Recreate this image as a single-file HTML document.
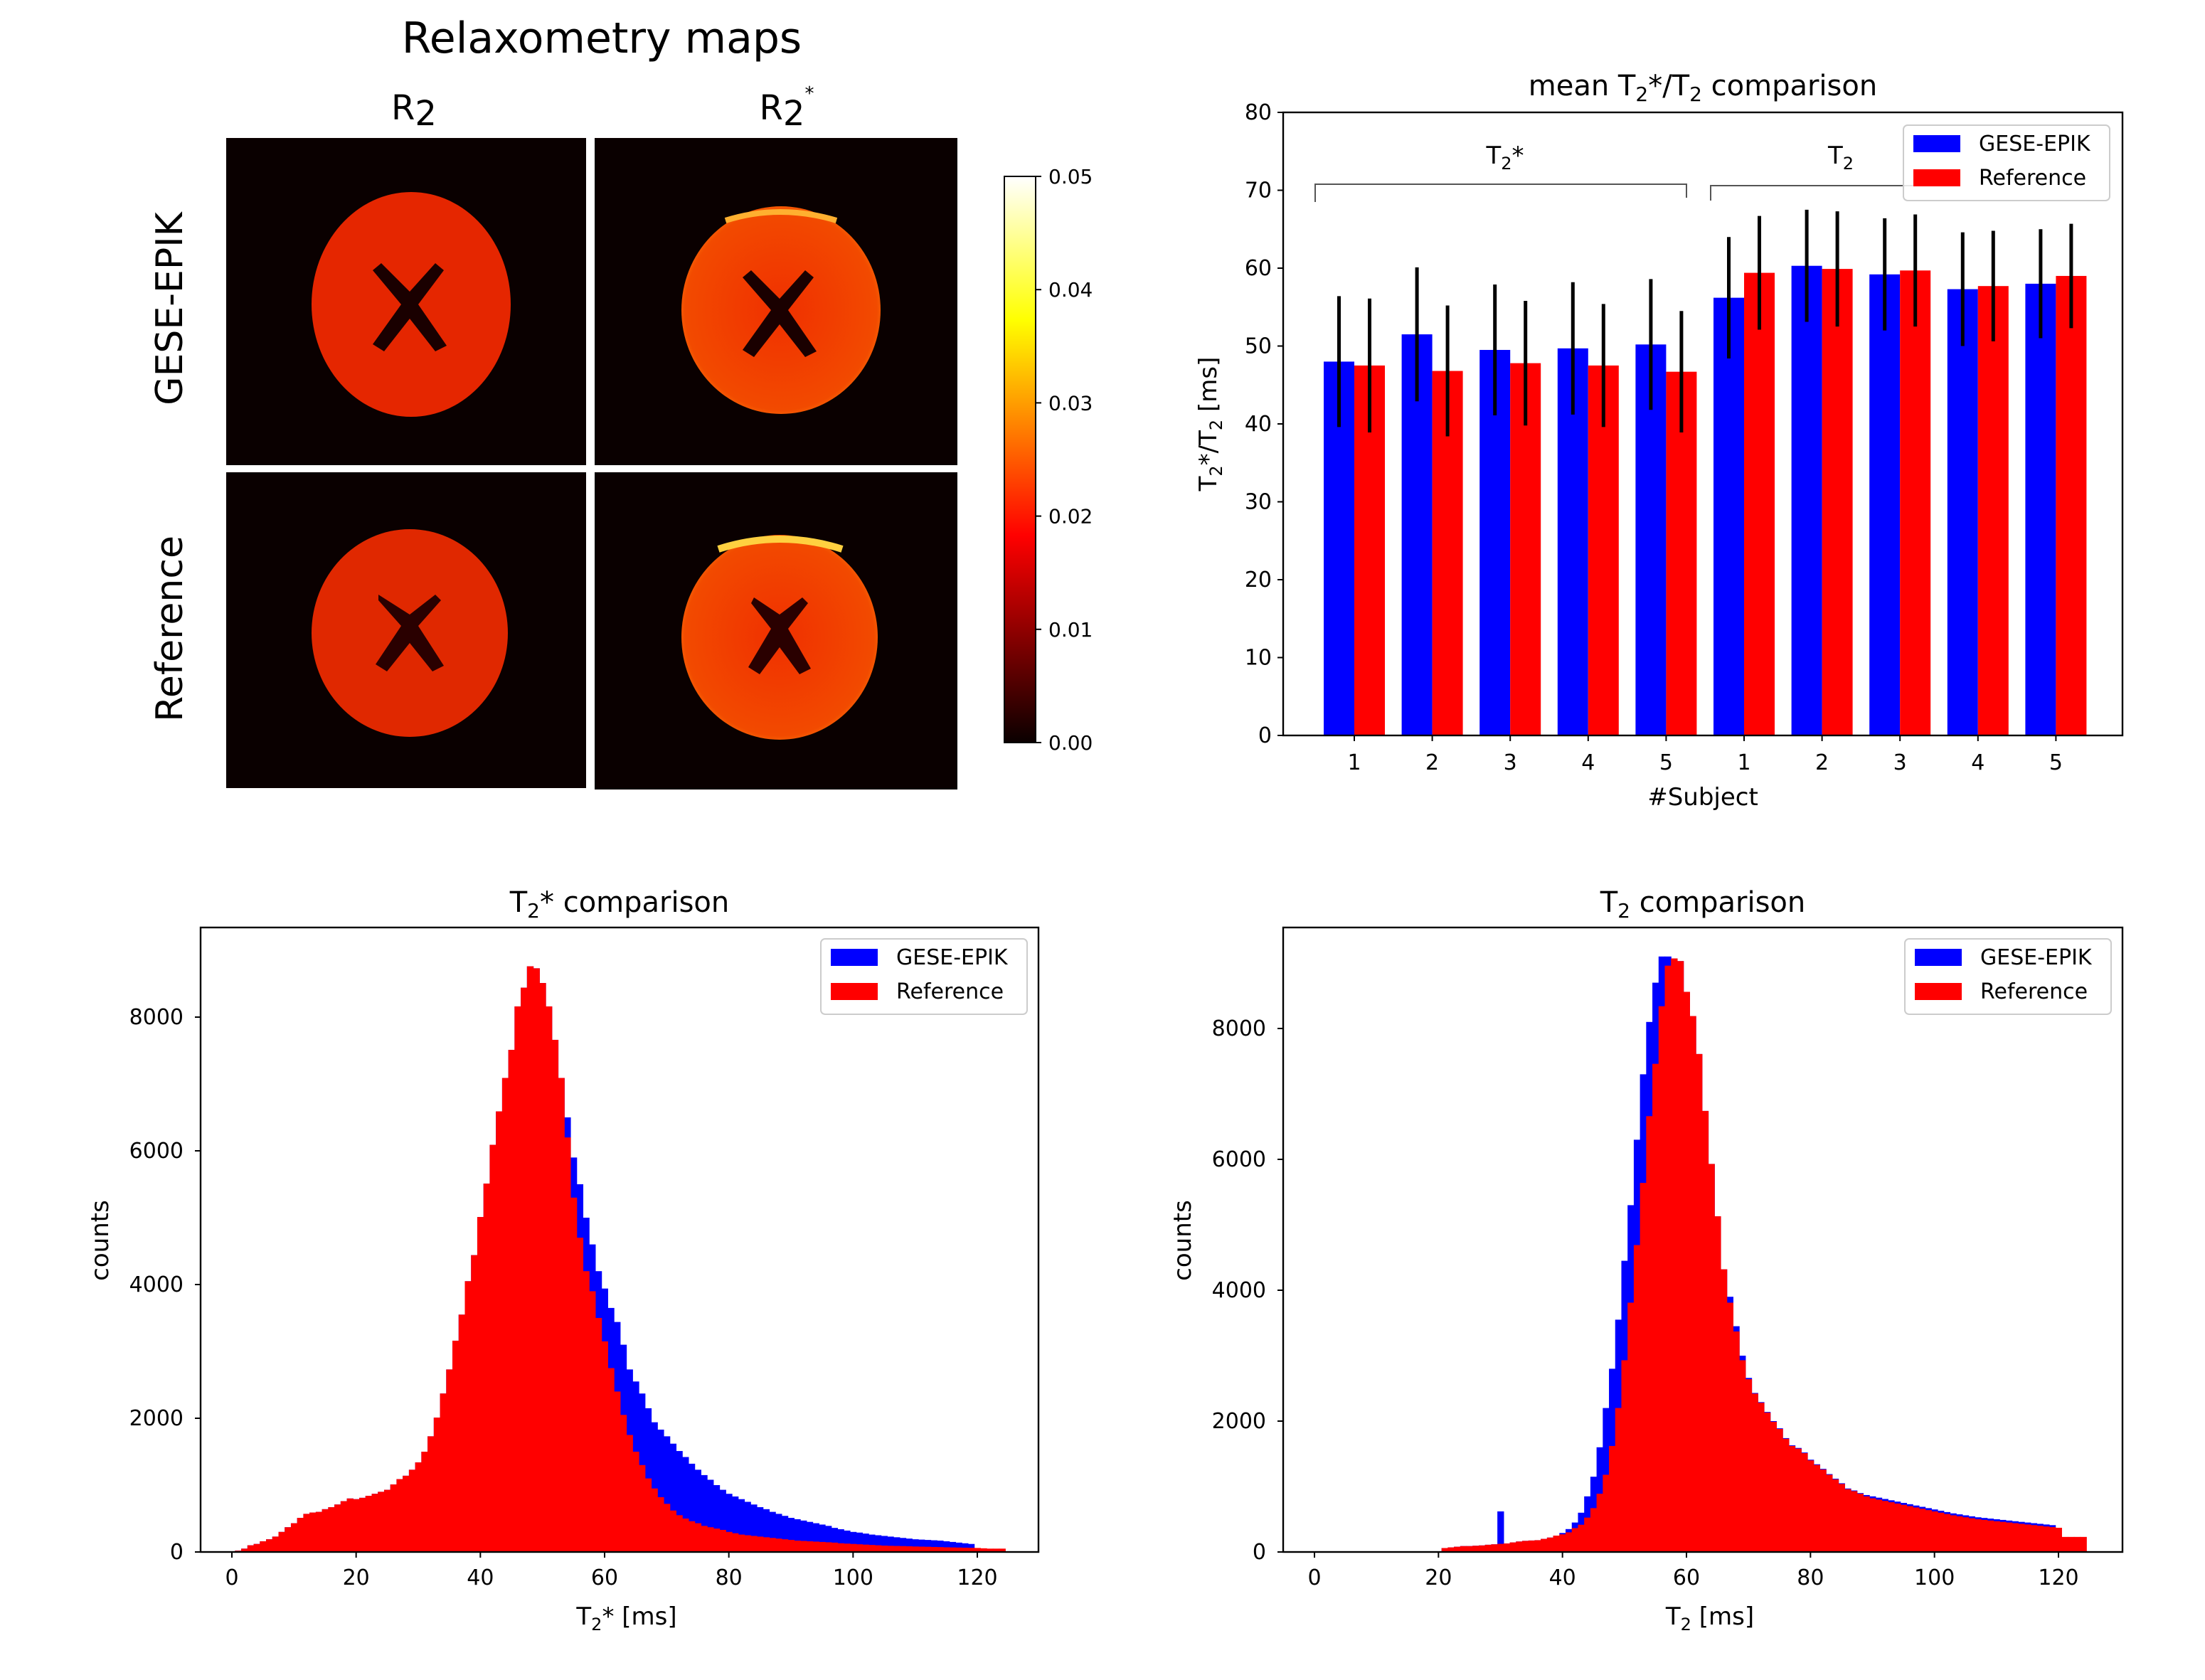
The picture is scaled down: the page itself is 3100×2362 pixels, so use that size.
<!DOCTYPE html>
<html><head><meta charset="utf-8"><style>
html,body{margin:0;padding:0;background:#fff;}
svg{display:block;font-family:"DejaVu Sans","Liberation Sans",sans-serif;}
</style></head><body>
<svg id="fig" width="3100" height="2362" viewBox="0 0 1550 1181" xmlns="http://www.w3.org/2000/svg">
<defs>
<linearGradient id="hot" x1="0" y1="1" x2="0" y2="0">
<stop offset="0" stop-color="#0a0000"/><stop offset="0.365" stop-color="#ff0000"/><stop offset="0.746" stop-color="#ffff00"/><stop offset="1" stop-color="#ffffff"/>
</linearGradient>
<radialGradient id="r2s" cx="0.5" cy="0.5" r="0.6"><stop offset="0" stop-color="#f03000"/><stop offset="0.8" stop-color="#f24a00"/><stop offset="1" stop-color="#ff9a10"/></radialGradient>
</defs>
<g>
<text x="423" y="37" font-size="30" text-anchor="middle">Relaxometry maps</text>
<text x="291" y="84" font-size="24" text-anchor="middle">R<tspan dy="4">2</tspan></text>
<text x="553" y="84" font-size="24" text-anchor="middle">R<tspan dy="4">2</tspan><tspan dy="-18" font-size="13">*</tspan></text>
<text transform="translate(128,217) rotate(-90)" font-size="26" text-anchor="middle">GESE-EPIK</text>
<text transform="translate(128,442) rotate(-90)" font-size="26" text-anchor="middle">Reference</text>
<rect x="159" y="97" width="253" height="230" fill="#0a0000"/>
<rect x="418" y="97" width="255" height="230" fill="#0a0000"/>
<rect x="159" y="332" width="253" height="222" fill="#0a0000"/>
<rect x="418" y="332" width="255" height="223" fill="#0a0000"/>
<g><ellipse cx="289" cy="214" rx="70" ry="79" fill="#e52600"/><path d="M268,185 L288,205 L306,185 L312,190 L294,214 L314,243 L306,247 L288,224 L270,247 L262,242 L282,214 L262,190Z" fill="#1a0000"/></g>
<g><ellipse cx="549" cy="218" rx="70" ry="73" fill="url(#r2s)"/><path d="M510,155 Q548,143 588,155" stroke="#ffb030" stroke-width="4" fill="none"/><path d="M528,190 L548,210 L566,190 L572,195 L554,218 L574,247 L566,251 L548,228 L530,251 L522,246 L542,218 L522,195Z" fill="#1a0000"/></g>
<g><ellipse cx="288" cy="445" rx="69" ry="73" fill="#e02800"/><path d="M266,418 L288,432 L306,418 L310,422 L294,440 L312,468 L304,472 L288,452 L272,472 L264,467 L282,440 L266,422Z" fill="#2a0000"/></g>
<g><ellipse cx="548" cy="448" rx="69" ry="72" fill="url(#r2s)"/><path d="M530,420 L548,432 L564,420 L568,424 L554,442 L570,470 L562,474 L548,455 L534,474 L526,469 L542,442 L528,424Z" fill="#2a0000"/><path d="M505,386 Q548,372 592,386" stroke="#ffd040" stroke-width="5" fill="none"/></g>
<rect x="706" y="124" width="22" height="398" fill="url(#hot)" stroke="#000" stroke-width="1"/>
<g id="cbticks" font-size="14"></g>
</g>
<g id="bar"></g>
<g id="h1"></g>
<g id="h2"></g>
</svg>
<script>
// ---- colorbar data ----
const cbTicks = [0.00, 0.01, 0.02, 0.03, 0.04, 0.05];
// ---- bar chart data ----
const subjects = ["1","2","3","4","5","1","2","3","4","5"];
const geseMean = [48, 51.5, 49.5, 49.7, 50.2, 56.2, 60.3, 59.2, 57.3, 58];
const refMean  = [47.5, 46.8, 47.8, 47.5, 46.7, 59.4, 59.9, 59.7, 57.7, 59];
const geseErr  = [8.4, 8.6, 8.4, 8.5, 8.4, 7.8, 7.2, 7.2, 7.3, 7.0];
const refErr   = [8.6, 8.4, 8.0, 7.9, 7.8, 7.3, 7.4, 7.2, 7.1, 6.7];
const barTicks = [0,10,20,30,40,50,60,70,80];
// ---- histogram data (1 ms bins centred on 0..124) ----
const t2sRef = [0,20,50,100,120,160,190,230,300,370,430,510,570,590,600,640,670,710,760,800,790,810,840,870,900,930,1010,1090,1140,1230,1340,1500,1730,2010,2370,2730,3160,3550,4050,4440,5010,5510,6090,6590,7090,7510,8160,8440,8760,8730,8510,8160,7660,7090,6200,5300,4700,4200,3900,3500,3150,2750,2400,2050,1750,1500,1300,1100,950,820,720,620,550,500,460,430,390,370,350,330,300,280,260,250,240,230,220,210,200,190,180,170,165,160,155,150,145,140,130,125,120,115,110,105,100,95,92,90,88,85,82,80,78,75,73,70,68,66,64,62,60,55,50,50,50];
const t2sGese = [0,20,50,100,120,160,190,230,300,370,430,510,570,590,600,640,670,710,760,800,790,810,840,870,900,930,1010,1090,1140,1230,1340,1500,1730,2010,2370,2730,3160,3550,4050,4440,5010,5510,6090,6590,7090,7510,8160,8440,8760,8730,8510,8160,7660,7090,6500,5900,5500,5000,4600,4200,3940,3650,3440,3100,2730,2550,2370,2150,1940,1830,1730,1620,1510,1420,1320,1230,1150,1080,1000,930,870,830,790,750,710,670,640,600,570,540,510,490,470,450,430,410,390,360,340,320,300,290,275,260,250,240,230,220,210,200,190,185,180,175,170,160,150,140,130,120,0,0,0,0,0];
const t2Ref = [0,0,0,0,0,0,0,0,0,0,0,0,0,0,0,0,0,0,0,0,0,60,70,80,90,90,95,100,110,117,124,130,146,160,170,175,180,200,220,250,270,300,365,416,525,670,890,1180,1620,2200,2930,3810,4690,5640,6660,7460,8340,8960,9070,9030,8560,8190,7610,6740,5930,5130,4320,3810,3370,2930,2640,2420,2280,2130,1990,1880,1730,1620,1580,1510,1400,1330,1260,1180,1110,1040,960,930,890,850,820,800,780,760,740,720,700,680,660,640,620,600,580,560,545,530,515,500,490,480,470,460,450,440,430,420,410,400,390,380,370,230,230,230,230];
const t2Gese = [0,0,0,0,0,0,0,0,0,0,0,0,0,0,0,0,0,0,0,0,0,60,70,80,90,90,95,100,110,117,620,130,146,160,170,175,180,200,220,250,290,350,450,600,850,1150,1600,2200,2800,3550,4450,5300,6300,7300,8100,8700,9100,9100,9070,9030,8560,8190,7610,6740,5930,5130,4320,3900,3450,3000,2660,2430,2290,2140,2000,1890,1740,1630,1590,1520,1410,1340,1270,1190,1120,1050,970,940,900,870,850,830,810,790,770,750,730,710,690,670,650,630,610,590,575,560,545,530,520,510,500,490,480,470,460,450,440,430,420,410,0,0,0,0,0];
const histTicksX = [0,20,40,60,80,100,120];
const histTicksY = [0,2000,4000,6000,8000];

const NS = "http://www.w3.org/2000/svg";
function mk(parent, tag, attrs, text){
  const e = document.createElementNS(NS, tag);
  for (const k in attrs) e.setAttribute(k, attrs[k]);
  if (text !== undefined) e.textContent = text;
  parent.appendChild(e);
  return e;
}

const cbg = document.getElementById('cbticks');
const cbY = v => 522 - (v/0.05)*398;
cbTicks.forEach(v => {
  const t = mk(cbg, 'line', {x1:728, x2:732, y1:cbY(v), y2:cbY(v), stroke:'#000'});
  
  
  const l = mk(cbg, 'text', {x:737, y:cbY(v)+5}, v.toFixed(2));
  
  
});

(function(){
  const g = document.getElementById('bar');
  const L=902, R=1492, T=79, B=517;
  const y = v => B - v/80*(B-T);
  const x = i => 952 + i*54.8;
  const bw = 21.5;
  const title = mk(g,'text',{x:1197,y:67,'font-size':20,'text-anchor':'middle'});
  title.innerHTML = 'mean T<tspan dy="4" font-size="14">2</tspan><tspan dy="-4">*/T</tspan><tspan dy="4" font-size="14">2</tspan><tspan dy="-4"> comparison</tspan>';
  
  
  subjects.forEach((s,i)=>{
    const b1 = mk(g,'rect',{x:x(i)-bw,y:y(geseMean[i]),width:bw,height:B-y(geseMean[i]),fill:'#0000ff'});
    
    
    const b2 = mk(g,'rect',{x:x(i),y:y(refMean[i]),width:bw,height:B-y(refMean[i]),fill:'#ff0000'});
    
    
  });
  subjects.forEach((s,i)=>{
    const e1 = mk(g,'line',{x1:x(i)-bw/2,x2:x(i)-bw/2,y1:y(geseMean[i]-geseErr[i]),y2:y(geseMean[i]+geseErr[i]),stroke:'#000','stroke-width':2.5});
    
    
    const e2 = mk(g,'line',{x1:x(i)+bw/2,x2:x(i)+bw/2,y1:y(refMean[i]-refErr[i]),y2:y(refMean[i]+refErr[i]),stroke:'#000','stroke-width':2.5});
    
    
    mk(g,'line',{x1:x(i),x2:x(i),y1:B,y2:B+4,stroke:'#000'});
    const tl = mk(g,'text',{x:x(i),y:B+24,'font-size':15,'text-anchor':'middle'},s);
    
    
  });
  barTicks.forEach(v=>{
    mk(g,'line',{x1:L-4,x2:L,y1:y(v),y2:y(v),stroke:'#000'});
    const tl = mk(g,'text',{x:L-8,y:y(v)+5,'font-size':15,'text-anchor':'end'},v);
    
    
  });
  const fr = mk(g,'rect',{x:L,y:T,width:R-L,height:B-T,fill:'none',stroke:'#000','stroke-width':1.2});
  
  
  const xl = mk(g,'text',{x:1197,y:566,'font-size':17,'text-anchor':'middle'},'#Subject');
  
  
  const yl = mk(g,'text',{transform:'translate(855,298) rotate(-90)','font-size':17,'text-anchor':'middle'});
  yl.innerHTML = 'T<tspan dy="4" font-size="12">2</tspan><tspan dy="-4">*/T</tspan><tspan dy="4" font-size="12">2</tspan><tspan dy="-4"> [ms]</tspan>';
  
  
  const br1 = mk(g,'path',{d:'M924.5,142 V129.5 H1185.5 V139',fill:'none',stroke:'#555','stroke-width':1});
  
  
  const br2 = mk(g,'path',{d:'M1202.5,141 V130.5 H1345',fill:'none',stroke:'#555','stroke-width':1});
  
  
  const l1 = mk(g,'text',{x:1058,y:115,'font-size':17,'text-anchor':'middle'});
  l1.innerHTML='T<tspan dy="4" font-size="12">2</tspan><tspan dy="-4">*</tspan>';
  
  
  const l2 = mk(g,'text',{x:1294,y:115,'font-size':17,'text-anchor':'middle'});
  l2.innerHTML='T<tspan dy="4" font-size="12">2</tspan>';
  
  
  legend(g, 1338, 88);
})();

function legend(g, lx, ly){
  const lg = mk(g,'g',{});
  
  
  mk(lg,'rect',{x:lx,y:ly,width:145,height:53,rx:3,fill:'#fff','fill-opacity':0.85,stroke:'#ccc'});
  const p1 = mk(lg,'rect',{x:lx+7,y:ly+7,width:33,height:12,fill:'#0000ff'});
  
  
  const t1 = mk(lg,'text',{x:lx+53,y:ly+18,'font-size':15},'GESE-EPIK');
  
  
  const p2 = mk(lg,'rect',{x:lx+7,y:ly+31,width:33,height:12,fill:'#ff0000'});
  
  
  const t2 = mk(lg,'text',{x:lx+53,y:ly+42,'font-size':15},'Reference');
  
  
}

function hist(id, L, R, T, B, x0px, x120px, y8000px, blue, red, titleHTML, xlabHTML){
  const g = document.getElementById(id);
  const x = v => x0px + v*(x120px-x0px)/120;
  const y = v => B - v*(B-y8000px)/8000;
  const t = mk(g,'text',{x:(L+R)/2,y:641,'font-size':20,'text-anchor':'middle'});
  t.innerHTML = titleHTML;
  
  
  [[blue,'#0000ff','hist-bin-gese-epik'],[red,'#ff0000','hist-bin-reference']].forEach(([arr,col,nm])=>{
    arr.forEach((c,i)=>{
      if(c<=0) return;
      const r = mk(g,'rect',{x:x(i-0.5),y:y(c),width:x(i+0.5)-x(i-0.5)+0.3,height:B-y(c),fill:col});
      
      
    });
  });
  histTicksX.forEach(v=>{
    mk(g,'line',{x1:x(v),x2:x(v),y1:B,y2:B+4,stroke:'#000'});
    const tl = mk(g,'text',{x:x(v),y:B+23,'font-size':15,'text-anchor':'middle'},v);
    
    
  });
  histTicksY.forEach(v=>{
    mk(g,'line',{x1:L-4,x2:L,y1:y(v),y2:y(v),stroke:'#000'});
    const tl = mk(g,'text',{x:L-12,y:y(v)+5,'font-size':15,'text-anchor':'end'},v);
    
    
  });
  const fr = mk(g,'rect',{x:L,y:T,width:R-L,height:B-T,fill:'none',stroke:'#000','stroke-width':1.2});
  
  
  const xl = mk(g,'text',{x:(L+R)/2+5,y:1142,'font-size':17,'text-anchor':'middle'});
  xl.innerHTML = xlabHTML;
  
  
  const yl = mk(g,'text',{transform:'translate('+(L-65)+',872) rotate(-90)','font-size':17,'text-anchor':'middle'},'counts');
  
  
  legend(g, R-153, 660);
}
hist('h1',141,730,652,1091,163,687,715,t2sGese,t2sRef,
  'T<tspan dy="4" font-size="14">2</tspan><tspan dy="-4">* comparison</tspan>',
  'T<tspan dy="4" font-size="12">2</tspan><tspan dy="-4">* [ms]</tspan>');
hist('h2',902,1492,652,1091,924,1447,723,t2Gese,t2Ref,
  'T<tspan dy="4" font-size="14">2</tspan><tspan dy="-4"> comparison</tspan>',
  'T<tspan dy="4" font-size="12">2</tspan><tspan dy="-4"> [ms]</tspan>');
</script>
</body></html>
